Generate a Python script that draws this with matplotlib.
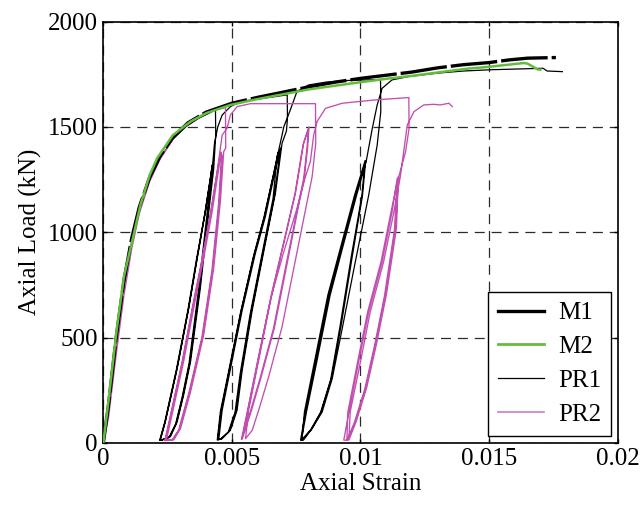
import matplotlib
matplotlib.use("Agg")
import matplotlib.pyplot as plt
from matplotlib.lines import Line2D

plt.rcParams["font.family"] = ["Liberation Serif", "DejaVu Serif"]

# monotonic tests
M1_STRAIN = [0, 0.0002, 0.0005, 0.0008, 0.0011, 0.0014, 0.0018, 0.0022, 0.0027, 0.0033,
             0.004, 0.005, 0.006, 0.007, 0.008, 0.009, 0.010, 0.011, 0.012, 0.013,
             0.014, 0.015, 0.0158, 0.0165, 0.0176]
M1_LOAD = [0, 180, 500, 770, 970, 1120, 1260, 1360, 1450, 1520,
           1570, 1612, 1640, 1665, 1690, 1712, 1730, 1745, 1760, 1780,
           1795, 1805, 1818, 1826, 1829]

M2_STRAIN = [0, 0.0002, 0.0005, 0.0008, 0.0012, 0.00144, 0.0018, 0.00209, 0.0027, 0.00339,
             0.004, 0.00494, 0.006, 0.007, 0.008, 0.009, 0.010, 0.011, 0.012, 0.013,
             0.01415, 0.015, 0.01635, 0.0165, 0.0169, 0.0170]
M2_LOAD = [0, 200, 520, 790, 1000, 1129, 1270, 1351, 1460, 1525,
           1565, 1604, 1632, 1655, 1678, 1695, 1712, 1728, 1742, 1758,
           1776, 1785, 1803, 1800, 1772, 1772]

# cyclic tests (unload/reload loops)
PR1_STRAIN = [0, 0.0002, 0.0005, 0.0008, 0.0011, 0.0014, 0.0018, 0.0022, 0.0027, 0.0032,
              0.0037, 0.0042, 0.00436,
              # loop 1
              0.00437, 0.00433, 0.00429, 0.0041, 0.00377, 0.00339, 0.00312, 0.00287, 0.00261, 0.00228,
              0.00222, 0.00241, 0.00287, 0.00332, 0.00365, 0.00397, 0.00423,
              0.00426, 0.00407, 0.00374, 0.00336, 0.00309, 0.00284, 0.00258, 0.00225,
              0.00219, 0.00238, 0.00284, 0.00329, 0.00362, 0.00395, 0.00424,
              0.00421, 0.00403, 0.0037, 0.00333, 0.00306, 0.00281, 0.00255, 0.00224,
              0.0022, 0.0024, 0.00286, 0.00331, 0.00364, 0.00396, 0.00425, 0.00432,
              0.00445, 0.00462, 0.00494, 0.00533, 0.006, 0.0066, 0.00715,
              # loop 2
              0.00716, 0.00712, 0.00695, 0.00669, 0.0063, 0.00579, 0.0054, 0.0052, 0.00494, 0.00462, 0.00449,
              0.00462, 0.00488, 0.0054, 0.00591, 0.0063, 0.00669, 0.0069,
              0.00688, 0.00665, 0.00626, 0.00575, 0.00536, 0.00516, 0.0049, 0.00458, 0.00445,
              0.00458, 0.00484, 0.00536, 0.00587, 0.00626, 0.00665, 0.0068,
              0.00676, 0.0066, 0.00622, 0.00571, 0.00532, 0.00512, 0.00486, 0.00454, 0.00443,
              0.00455, 0.00482, 0.00534, 0.00585, 0.00624, 0.00664, 0.00702, 0.00727, 0.00753,
              0.00799, 0.00864, 0.0095, 0.01078,
              # loop 3
              0.01079, 0.01065, 0.01032, 0.0098, 0.00929, 0.0089, 0.00851, 0.00812, 0.00778, 0.00767,
              0.00786, 0.00825, 0.00877, 0.00929, 0.00981, 0.0102,
              0.01008, 0.0097, 0.00925, 0.00888, 0.00848, 0.0081, 0.00772,
              0.00782, 0.00821, 0.00873, 0.00925, 0.00977, 0.01018,
              0.01005, 0.00965, 0.0092, 0.00884, 0.00845, 0.00806, 0.0077,
              0.0079, 0.0083, 0.00882, 0.00933, 0.00985, 0.01022, 0.01046, 0.01065, 0.01084,
              0.01123, 0.01188, 0.013, 0.014, 0.01506, 0.0171, 0.01726, 0.01785]
PR1_LOAD = [0, 150, 480, 740, 950, 1110, 1250, 1350, 1440, 1500,
            1540, 1570, 1585,
            1460, 1380, 1300, 1097, 733, 385, 226, 100, 30, 15,
            15, 100, 353, 638, 876, 1097, 1303,
            1320, 1090, 730, 380, 220, 95, 28, 12,
            12, 95, 348, 632, 870, 1092, 1320,
            1300, 1085, 725, 375, 215, 90, 25, 12,
            12, 98, 350, 636, 873, 1095, 1322, 1420,
            1500, 1556, 1596, 1620, 1632, 1642, 1652,
            1540, 1480, 1422, 1184, 947, 630, 345, 155, 60, 20, 18,
            155, 314, 630, 899, 1074, 1295, 1400,
            1390, 1170, 935, 620, 335, 150, 55, 18, 15,
            150, 310, 625, 895, 1070, 1290, 1380,
            1360, 1160, 925, 612, 328, 145, 52, 17, 14,
            148, 308, 622, 892, 1068, 1288, 1501, 1580, 1668,
            1699, 1712, 1720, 1725,
            1572, 1414, 1176, 860, 543, 305, 147, 68, 13, 13,
            147, 385, 701, 938, 1176, 1335,
            1176, 900, 560, 310, 150, 65, 12,
            147, 385, 701, 938, 1176, 1340,
            1170, 890, 550, 300, 145, 62, 12,
            147, 385, 701, 938, 1176, 1335, 1493, 1604, 1683,
            1723, 1739, 1755, 1765, 1771, 1778, 1765, 1762]

PR2_STRAIN = [0, 0.0002, 0.0005, 0.0008, 0.0011, 0.0014, 0.0018, 0.0022, 0.0027, 0.0032,
              0.0037, 0.0042, 0.00475,
              # loop 1
              0.00476, 0.00468, 0.00455, 0.00429, 0.0039, 0.00339, 0.003, 0.00274, 0.00245,
              0.00261, 0.00312, 0.00351, 0.0039, 0.00423, 0.00449, 0.00458,
              0.00462, 0.00451, 0.00425, 0.00386, 0.00335, 0.00296, 0.0027, 0.00241,
              0.00257, 0.00308, 0.00347, 0.00386, 0.00419, 0.00445, 0.00455,
              0.00459, 0.00448, 0.00422, 0.00383, 0.00332, 0.00293, 0.00267, 0.00239,
              0.00255, 0.00306, 0.00345, 0.00384, 0.00417, 0.00444, 0.00462, 0.00481,
              0.00494, 0.0052, 0.00572, 0.0075, 0.00825,
              # loop 2
              0.00826, 0.00812, 0.00786, 0.00747, 0.00695, 0.00643, 0.00604, 0.00579, 0.00553,
              0.00565, 0.00604, 0.00656, 0.00708, 0.00747, 0.00779, 0.008,
              0.00795, 0.00782, 0.00755, 0.00716, 0.00665, 0.00613, 0.00575, 0.0055, 0.0054,
              0.00562, 0.00602, 0.00654, 0.00706, 0.00745, 0.00777, 0.00797,
              0.00792, 0.00779, 0.00752, 0.00712, 0.00661, 0.00609, 0.00571, 0.00546, 0.00537,
              0.0056, 0.006, 0.0065, 0.0070, 0.0075, 0.00785, 0.00805, 0.00818, 0.00831,
              0.00864, 0.00929, 0.01058, 0.01188,
              # loop 3
              0.01189, 0.01175, 0.01149, 0.01136, 0.01097, 0.01058, 0.0102, 0.0098, 0.00951, 0.00935,
              0.00955, 0.00993, 0.01032, 0.01084, 0.01123, 0.01143,
              0.01132, 0.01093, 0.01054, 0.01016, 0.00976, 0.00947,
              0.00951, 0.00989, 0.01028, 0.0108, 0.01119, 0.01147,
              0.0114, 0.01101, 0.01062, 0.01024, 0.00984, 0.00955,
              0.0096, 0.0100, 0.01038, 0.0109, 0.0113, 0.01155, 0.01182, 0.01208, 0.01246,
              0.01285, 0.0131, 0.01344, 0.01357]
PR2_LOAD = [0, 120, 420, 700, 920, 1090, 1240, 1345, 1440, 1505,
            1545, 1575, 1592,
            1400, 1382, 1145, 828, 511, 242, 68, 15, 12,
            100, 385, 638, 876, 1097, 1303, 1380,
            1360, 1140, 820, 505, 238, 65, 14, 12,
            100, 385, 638, 876, 1097, 1303, 1370,
            1350, 1135, 815, 500, 235, 62, 13, 11,
            98, 383, 636, 874, 1095, 1300, 1461, 1493,
            1556, 1596, 1610, 1610, 1610,
            1422, 1264, 1105, 868, 551, 314, 155, 60, 20,
            155, 393, 709, 979, 1184, 1422, 1500,
            1410, 1260, 1100, 860, 545, 310, 150, 55, 18,
            152, 391, 707, 977, 1182, 1418, 1490,
            1400, 1255, 1095, 855, 540, 305, 146, 52, 17,
            150, 390, 680, 900, 1100, 1260, 1335, 1461, 1525,
            1588, 1612, 1628, 1639,
            1493, 1380, 1264, 1018, 701, 464, 258, 100, 13, 13,
            147, 385, 622, 860, 1097, 1256,
            1010, 695, 458, 252, 96, 12,
            147, 385, 622, 860, 1097, 1264,
            1020, 705, 468, 262, 104, 14,
            147, 385, 622, 860, 1097, 1264, 1509, 1572, 1604,
            1607, 1604, 1612, 1596]

X_TICKS = [0, 0.005, 0.01, 0.015, 0.02]
X_TICK_LABELS = ["0", "0.005", "0.01", "0.015", "0.02"]
Y_TICKS = [0, 500, 1000, 1500, 2000]

GREEN = "#62bd3c"
MAGENTA = "#c24fb0"

fig = plt.figure(figsize=(6.42, 5.12), dpi=100)
ax = fig.add_axes([0.161, 0.135, 0.801, 0.823])

ax.plot(PR1_STRAIN, PR1_LOAD, color="black", lw=0.9, zorder=3)
ax.plot(PR2_STRAIN, PR2_LOAD, color=MAGENTA, lw=0.95, zorder=3)
ax.plot(M1_STRAIN, M1_LOAD, color="black", lw=2.4, dashes=(14, 1.2), zorder=4)
ax.plot(M2_STRAIN, M2_LOAD, color=GREEN, lw=1.8, zorder=5)

ax.set_xlim(0, 0.02)
ax.set_ylim(0, 2000)
ax.set_xticks(X_TICKS)
ax.set_xticklabels(X_TICK_LABELS)
ax.set_yticks(Y_TICKS)
ax.tick_params(direction="in", top=True, right=True, length=3, width=1,
               labelsize=18, pad=4)
ax.grid(True, color="#2b2b2b", linestyle=(0, (8, 5.5)), linewidth=0.9)
for sp in ax.spines.values():
    sp.set_linewidth(1.2)

ax.set_xlabel("Axial Strain", fontsize=18, labelpad=2)
ax.set_ylabel("Axial Load (kN)", fontsize=18, labelpad=4)

handles = [Line2D([], [], color="black", lw=2.4),
           Line2D([], [], color=GREEN, lw=2.0),
           Line2D([], [], color="black", lw=0.9),
           Line2D([], [], color="#d07cc4", lw=1.2)]
leg = ax.legend(handles, ["M1", "M2", "PR1", "PR2"], loc="lower right",
                bbox_to_anchor=(0.987, 0.017), borderaxespad=0, fontsize=18,
                handlelength=1.85, handletextpad=0.55, labelspacing=0.45,
                borderpad=0.4, fancybox=False, framealpha=1)
leg.get_frame().set_edgecolor("black")
leg.get_frame().set_linewidth(1.0)

fig.savefig("out.png", dpi=100)
